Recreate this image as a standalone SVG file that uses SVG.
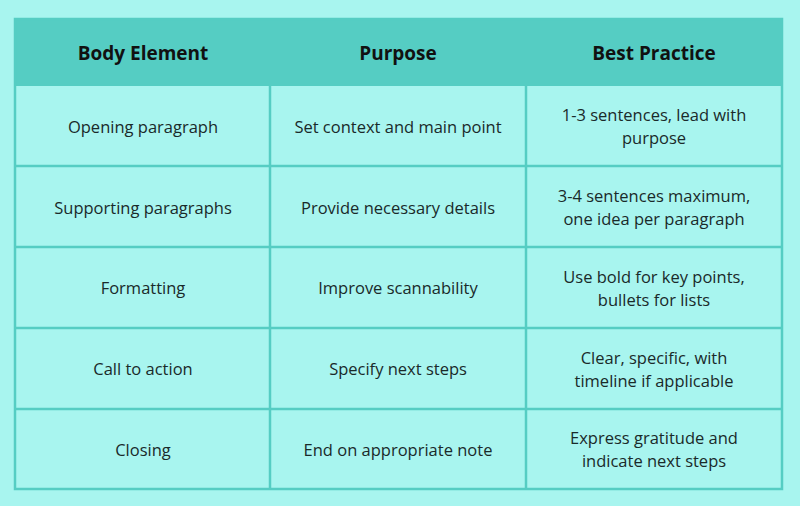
<svg xmlns="http://www.w3.org/2000/svg" width="800" height="506" viewBox="0 0 800 506">
<style>
.h{font-family:"Open Sans","Liberation Sans",sans-serif;font-weight:bold;font-size:19px;fill:#111;text-anchor:middle}
.t{font-family:"Open Sans","Liberation Sans",sans-serif;font-size:16.5px;fill:#1a2a2a;text-anchor:middle}
.l{stroke:#55cdc3;stroke-width:2.5;fill:none}
</style>
<rect width="800" height="506" fill="#a8f5ef"/>
<rect x="15" y="19" width="767" height="67" fill="#55cdc3"/>
<g id="grid">
<rect class="l" x="15" y="19" width="767" height="470"/>
<path class="l" d="M15 166H782M15 247H782M15 328H782M15 409H782M270 86V489M526 86V489"/>
</g>
<g id="header">
<text class="h" x="143" y="60">Body Element</text>
<text class="h" x="398" y="60">Purpose</text>
<text class="h" x="654" y="60">Best Practice</text>
</g>
<g id="r1">
<text class="t" x="143" y="133">Opening paragraph</text>
<text class="t" x="398" y="133">Set context and main point</text>
<text class="t" x="654" y="121">1-3 sentences, lead with</text>
<text class="t" x="654" y="144">purpose</text>
</g>
<g id="r2">
<text class="t" x="143" y="214">Supporting paragraphs</text>
<text class="t" x="398" y="214">Provide necessary details</text>
<text class="t" x="654" y="202">3-4 sentences maximum,</text>
<text class="t" x="654" y="225">one idea per paragraph</text>
</g>
<g id="r3">
<text class="t" x="143" y="294">Formatting</text>
<text class="t" x="398" y="294">Improve scannability</text>
<text class="t" x="654" y="283">Use bold for key points,</text>
<text class="t" x="654" y="306">bullets for lists</text>
</g>
<g id="r4">
<text class="t" x="143" y="375">Call to action</text>
<text class="t" x="398" y="375">Specify next steps</text>
<text class="t" x="654" y="364">Clear, specific, with</text>
<text class="t" x="654" y="387">timeline if applicable</text>
</g>
<g id="r5">
<text class="t" x="143" y="456">Closing</text>
<text class="t" x="398" y="456">End on appropriate note</text>
<text class="t" x="654" y="444">Express gratitude and</text>
<text class="t" x="654" y="467">indicate next steps</text>
</g>
</svg>
